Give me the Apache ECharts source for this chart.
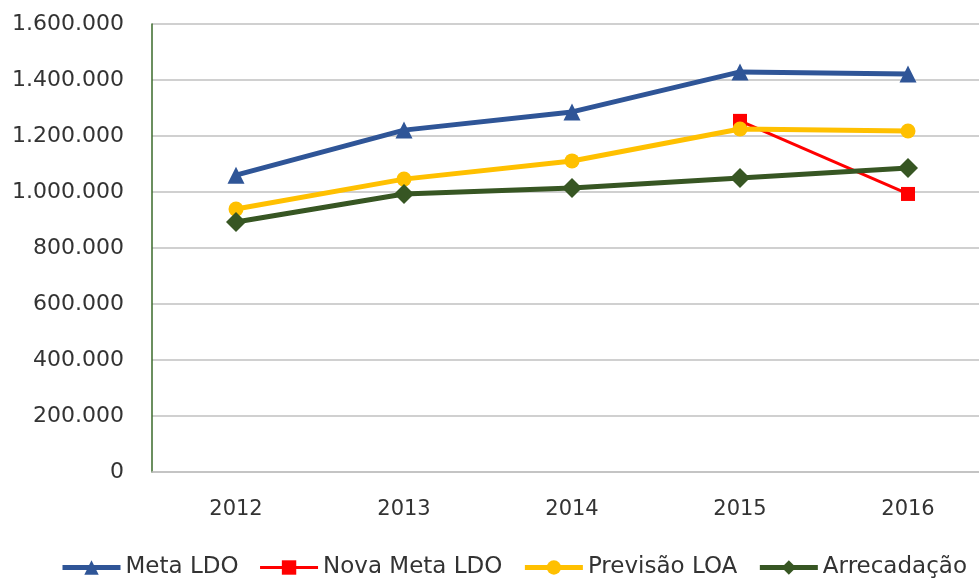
<!DOCTYPE html>
<html>
<head>
<meta charset="utf-8">
<script src="https://cdn.jsdelivr.net/npm/echarts@6/dist/echarts.min.js"></script>
<style>
  html, body { margin: 0; padding: 0; background: #fff; overflow: hidden; }
  #chart { width: 979px; height: 581px; }
</style>
</head>
<body>
<div id="chart"></div>
<script>
const years = ['2012', '2013', '2014', '2015', '2016']
const metaLdo = [1060000, 1221000, 1286000, 1429000, 1421000]
const novaMetaLdo = [null, null, null, 1254000, 993000]
const previsaoLoa = [939000, 1046000, 1111000, 1225000, 1218000]
const arrecadacao = [893000, 993000, 1014000, 1050000, 1086000]

const fmt = v => String(v).replace(/\B(?=(\d{3})+(?!\d))/g, '.')
const FONT = 'DejaVu Sans'

const chart = echarts.init(document.getElementById('chart'), null, { renderer: 'canvas' })

chart.setOption({
    animation: false,
    textStyle: { fontFamily: FONT },
    grid: { left: 152, top: 24, width: 840, bottom: 109, containLabel: false, outerBoundsMode: 'none' },
    legend: {
        bottom: -3,
        left: 55,
        width: 1400,
        itemWidth: 58,
        itemHeight: 18,
        itemGap: 20,
        textStyle: { fontSize: 23, color: '#333', fontFamily: FONT },
        data: [
            { name: 'Meta LDO', lineStyle: { width: 5 } },
            { name: 'Nova Meta LDO', lineStyle: { width: 3 } },
            { name: 'Previsão LOA', lineStyle: { width: 5 } },
            { name: 'Arrecadação', lineStyle: { width: 5 } }
        ]
    },
    xAxis: {
        type: 'category',
        data: years,
        axisTick: { show: false },
        axisLine: { lineStyle: { color: '#c0c0c0', width: 1.5 } },
        axisLabel: { fontSize: 21, color: '#333', margin: 27 }
    },
    yAxis: {
        type: 'value',
        min: 0,
        max: 1600000,
        interval: 200000,
        axisLine: { show: true, lineStyle: { color: '#3a6a2a', width: 1.5 } },
        axisTick: { show: false },
        splitLine: { lineStyle: { color: '#c0c0c0', width: 1.5 } },
        axisLabel: { fontSize: 22, color: '#333', margin: 28, formatter: fmt }
    },
    series: [
        {
            name: 'Meta LDO', type: 'line', data: metaLdo,
            symbol: 'triangle', symbolSize: 17,
            lineStyle: { color: '#2f5597', width: 5 },
            itemStyle: { color: '#2f5597' }
        },
        {
            name: 'Nova Meta LDO', type: 'line', data: novaMetaLdo,
            symbol: 'rect', symbolSize: 14,
            lineStyle: { color: '#ff0000', width: 3 },
            itemStyle: { color: '#ff0000' }
        },
        {
            name: 'Previsão LOA', type: 'line', data: previsaoLoa,
            symbol: 'circle', symbolSize: 15,
            lineStyle: { color: '#ffc000', width: 5 },
            itemStyle: { color: '#ffc000' }
        },
        {
            name: 'Arrecadação', type: 'line', data: arrecadacao,
            symbol: 'diamond', symbolSize: 20,
            lineStyle: { color: '#375623', width: 5 },
            itemStyle: { color: '#375623' }
        }
    ]
})
</script>
</body>
</html>
